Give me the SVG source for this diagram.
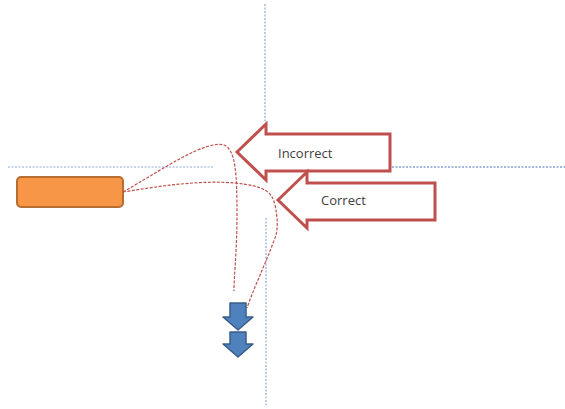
<svg xmlns="http://www.w3.org/2000/svg" width="565" height="409" viewBox="0 0 565 409">
<style>
.guide{stroke:#8eaadb;stroke-width:1.2;stroke-dasharray:2 1.5;fill:none}
.guide2{stroke:#4a72b8;stroke-width:1;stroke-dasharray:2 1.5;fill:none}
.conn{stroke:#c0504d;stroke-width:1.2;stroke-dasharray:3 1.5;fill:none}
.red{fill:#ffffff;stroke:#c0504d;stroke-width:3;stroke-linejoin:miter}
.blue{fill:#4f81bd;stroke:#385d8a;stroke-width:1.5;stroke-linejoin:round}
.lbl{font-family:"Open Sans","Liberation Sans",sans-serif;font-size:13px;fill:#404040}
</style>
<g id="guides">
<line class="guide" x1="265" y1="4" x2="265" y2="122"/>
<line class="guide" x1="266" y1="218" x2="266" y2="407"/>
<line class="guide" x1="8" y1="167" x2="213" y2="167"/>
<line class="guide2" x1="392" y1="167" x2="565" y2="167"/>
</g>
<g id="source">
<rect x="17" y="177" width="106" height="30" rx="4" ry="4" fill="#f79646" stroke="#b66d31" stroke-width="2"/>
</g>
<g id="connectors">
<path class="conn" d="M123,192 C165,168 205,140 224,145 C236,150 237,175 237,215 C237,250 234,275 234,291"/>
<path class="conn" d="M123,192 C160,186 200,180 235,183 C265,186 272,192 275,205 C278,220 278,230 275,238 C265,265 255,285 247,308"/>
</g>
<g id="incorrect">
<polygon class="red" points="237,152 266,124 266,134 390,134 390,171 266,171 266,180"/>
<text class="lbl" x="278" y="158">Incorrect</text>
</g>
<g id="correct">
<polygon class="red" points="278,200 307,172 307,183 435,183 435,220 307,220 307,228"/>
<text class="lbl" x="321" y="205">Correct</text>
</g>
<g id="down1">
<polygon class="blue" points="230,303 246,303 246,317 253,317 238,330 223,317 230,317"/>
</g>
<g id="down2">
<polygon class="blue" points="230,332 246,332 246,344 253,344 238,357 223,344 230,344"/>
</g>
</svg>
